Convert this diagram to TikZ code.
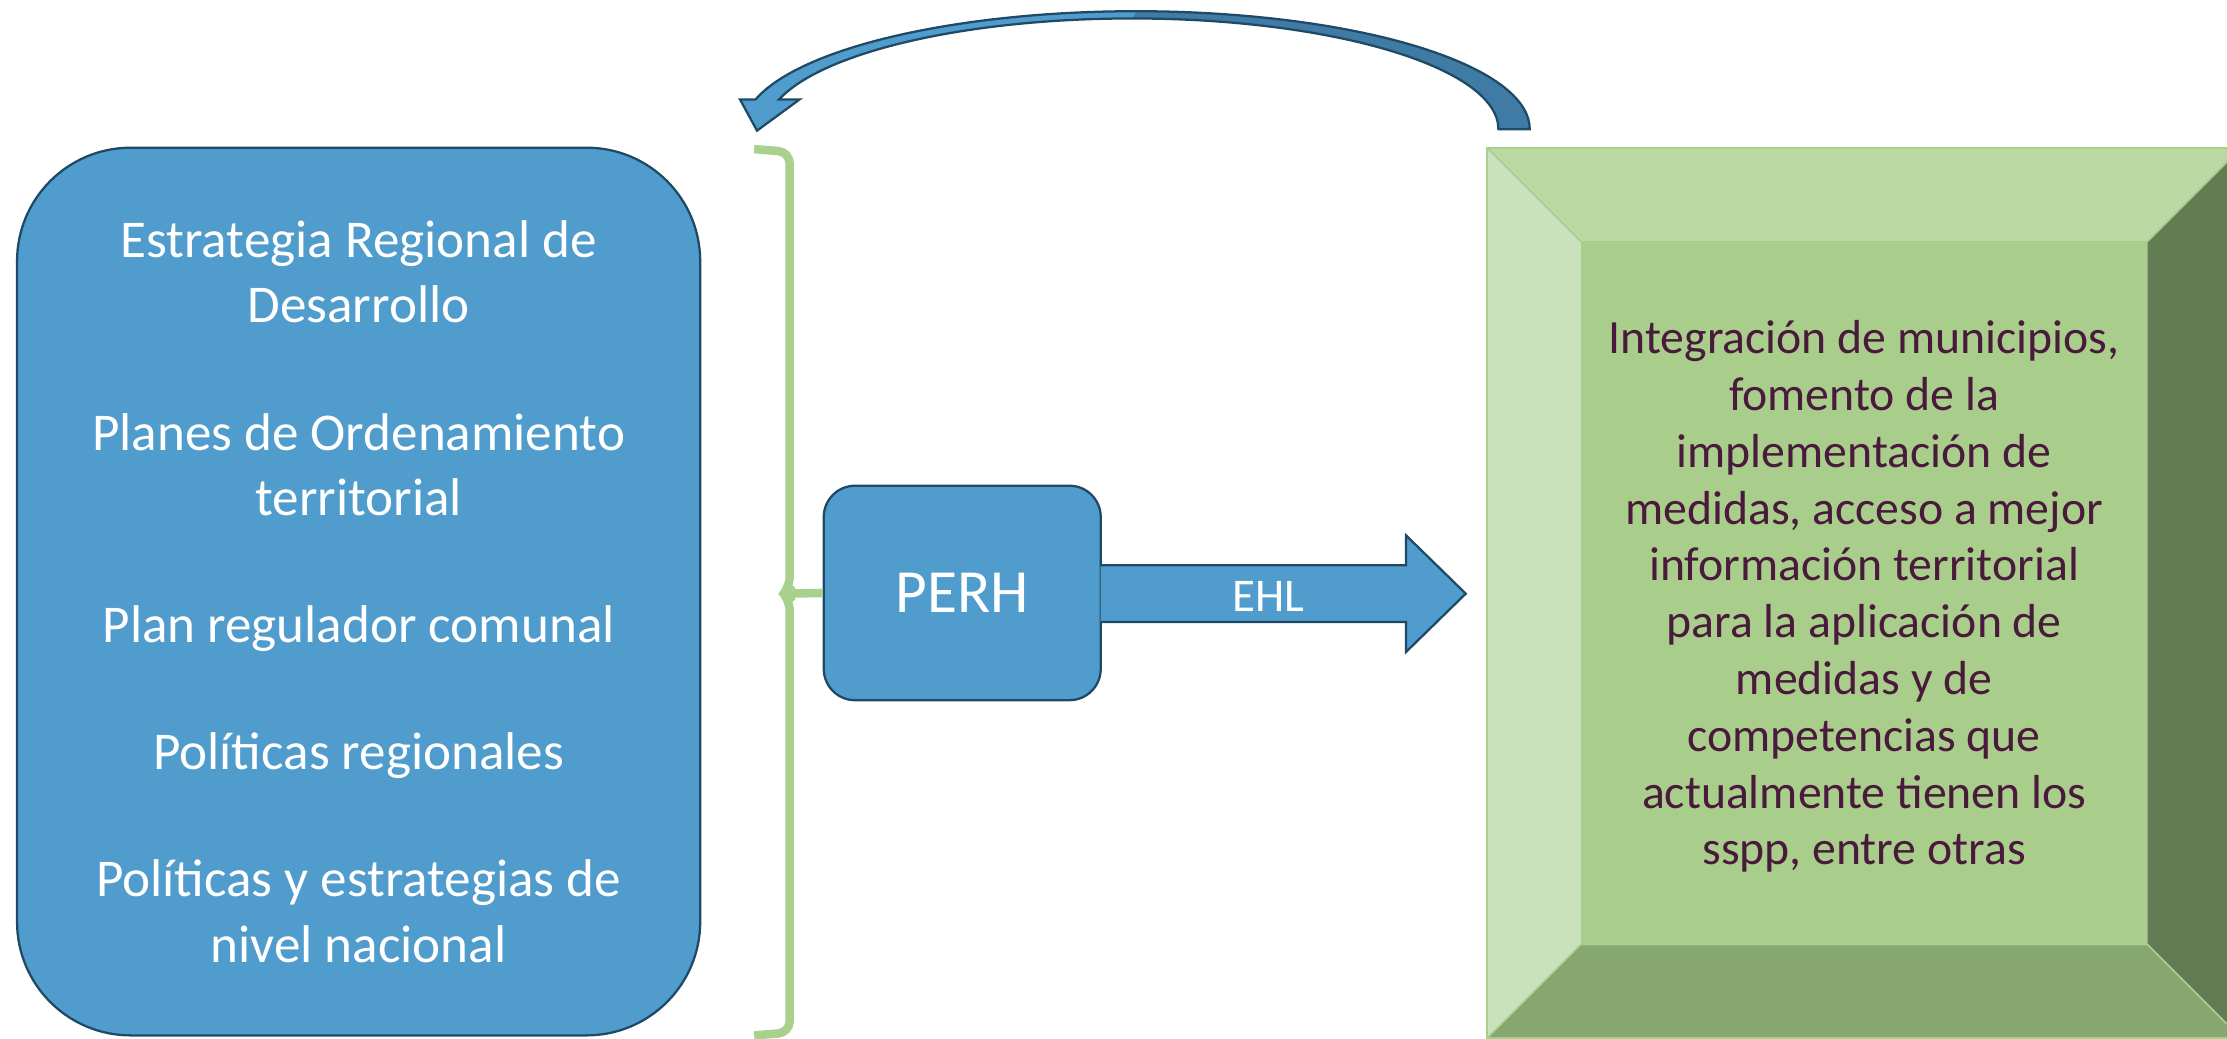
\documentclass[tikz,border=0pt]{standalone}
\usepackage{fontspec}
\setmainfont{Carlito}
\usepackage{tikz}

\definecolor{boxblue}{HTML}{4F9CCD}
\definecolor{boxline}{HTML}{1F4A66}
\definecolor{arrowdark}{HTML}{3F7BA5}
\definecolor{bracegreen}{HTML}{A9D18E}
\definecolor{bevtop}{HTML}{B8D9A2}
\definecolor{bevleft}{HTML}{CAE2BB}
\definecolor{bevmid}{HTML}{A9CE8B}
\definecolor{bevright}{HTML}{627C53}
\definecolor{bevbottom}{HTML}{86A76F}
\definecolor{textplum}{HTML}{4A1A3C}

\begin{document}
\begin{tikzpicture}[x=0.5pt,y=0.5pt,yscale=-1,xscale=1,
  bluebox/.style={draw=boxline, line width=0.8pt, fill=boxblue, text=white, align=center},
  bevface/.style={draw=bracegreen, line width=0.6pt},
  bracestroke/.style={draw=bracegreen, line width=3pt}]
\useasboundingbox (0,0) rectangle (1568,731);

%Curved Arrow (front face)
\fill[boxblue] (533,92) -- (521,70) -- (532,70) arc[start angle=194.6, end angle=270, x radius=277, y radius=83] -- (797,13) arc[start angle=270, end angle=195.6, x radius=258, y radius=78] -- (563,70) -- cycle;
%Curved Arrow (back face)
\fill[arrowdark] (800,8) arc[start angle=270, end angle=360, x radius=277, y radius=83] -- (1055,91) arc[start angle=0, end angle=-90, x radius=258, y radius=78] -- cycle;
%Curved Arrow (outline)
\draw[boxline, line width=0.8pt] (533,92) -- (521,70) -- (532,70) arc[start angle=194.6, end angle=360, x radius=277, y radius=83] -- (1055,91) arc[start angle=0, end angle=-164.4, x radius=258, y radius=78] -- (563,70) -- cycle;

% Rounded Rect
\node[bluebox, minimum width=240.5pt, minimum height=312.5pt, rounded corners=40pt, font=\fontsize{18.7}{23}\selectfont] (instrumentos) at (252.5,416.5) {Estrategia Regional de\\Desarrollo\\[21.75pt]Planes de Ordenamiento\\territorial\\[21.75pt]Plan regulador comunal\\[21.75pt]Políticas regionales\\[21.75pt]Políticas y estrategias de\\nivel nacional};

%Brace
\draw[bracestroke, rounded corners=4pt] (531,105) -- (556,107) -- (556,414) -- (552,418) -- (556,422) -- (556,727) -- (531,729);
\coordinate (bracetip) at (553,418);

% Rounded Rect
\node[bluebox, minimum width=97.5pt, minimum height=75.5pt, rounded corners=11pt, font=\fontsize{21.6}{26}\selectfont] (perh) at (677.5,417.5) {PERH};
\draw[bracestroke] (bracetip) -- (perh.west);

%Block Arrow
\draw[draw=boxline, line width=0.8pt, fill=boxblue] (775,398) -- (990,398) -- (990,377) -- (1032,418) -- (990,459) -- (990,438) -- (775,438);
% Text Node
\node[text=white, font=\fontsize{16.5}{19}\selectfont] (ehl) at (893,420) {EHL};

%Bevel
\fill[bevtop] (1047,104) -- (1578,104) -- (1512,170) -- (1113,170) -- cycle;
\fill[bevleft] (1047,104) -- (1113,170) -- (1113,665) -- (1047,731) -- cycle;
\fill[bevright] (1578,104) -- (1578,731) -- (1512,665) -- (1512,170) -- cycle;
\fill[bevbottom] (1047,731) -- (1113,665) -- (1512,665) -- (1578,731) -- cycle;
\fill[bevmid] (1113,170) rectangle (1512,665);
\draw[bevface] (1047,104) rectangle (1578,731);
\draw[bevface] (1047,104) -- (1113,170) (1578,104) -- (1512,170) (1047,731) -- (1113,665) (1578,731) -- (1512,665) (1113,665) -- (1512,665);

% Text Node
\node[text=textplum, align=center, font=\fontsize{16.8}{20}\selectfont] (integracion) at (1312.5,420) {Integración de municipios,\\fomento de la\\implementación de\\medidas, acceso a mejor\\información territorial\\para la aplicación de\\medidas y de\\competencias que\\actualmente tienen los\\sspp, entre otras};
\end{tikzpicture}
\end{document}
